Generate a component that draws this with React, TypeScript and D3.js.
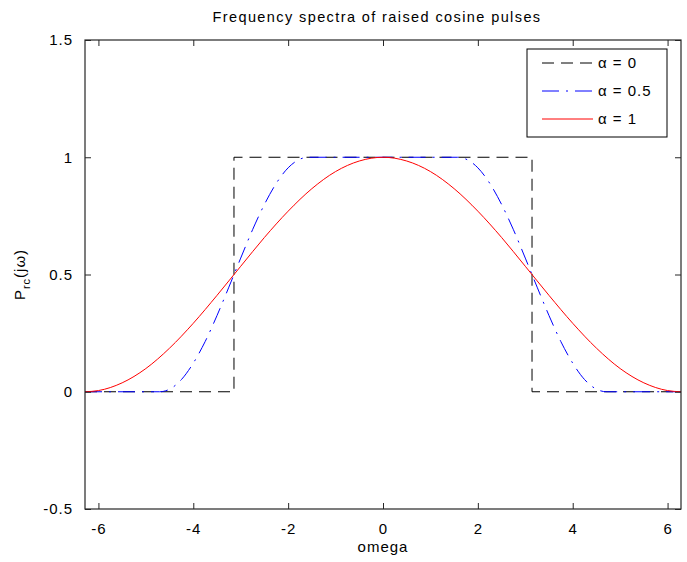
import React, { useEffect, useRef } from 'react';
import * as d3 from 'd3';

// omega samples and spectrum values
const rectOmega = [-6.283, -3.142, -3.142, 3.142, 3.142, 6.283];
const rectValue = [0, 0, 1, 1, 0, 0];

const halfOmega = [-6.283, -4.712, -4.5, -4.25, -4, -3.75, -3.5, -3.25, -3, -2.75, -2.5, -2.25, -2, -1.75, -1.571,
  1.571, 1.75, 2, 2.25, 2.5, 2.75, 3, 3.25, 3.5, 3.75, 4, 4.25, 4.5, 4.712, 6.283];
const halfValue = [0, 0, 0.011, 0.052, 0.122, 0.214, 0.325, 0.446, 0.57, 0.691, 0.799, 0.889, 0.955, 0.992, 1,
  1, 0.992, 0.955, 0.889, 0.799, 0.691, 0.57, 0.446, 0.325, 0.214, 0.122, 0.052, 0.011, 0, 0];

const fullOmega = [-6.283, -6, -5.5, -5, -4.5, -4, -3.5, -3, -2.5, -2, -1.5, -1, -0.5, 0,
  0.5, 1, 1.5, 2, 2.5, 3, 3.5, 4, 4.5, 5, 5.5, 6, 6.283];
const fullValue = [0, 0.005, 0.038, 0.099, 0.186, 0.292, 0.411, 0.535, 0.658, 0.77, 0.866, 0.939, 0.984, 1,
  0.984, 0.939, 0.866, 0.77, 0.658, 0.535, 0.411, 0.292, 0.186, 0.099, 0.038, 0.005, 0];

const xTicks = [-6, -4, -2, 0, 2, 4, 6];
const yTicks = [-0.5, 0, 0.5, 1, 1.5];
const legendLabels = ['\u03b1 = 0', '\u03b1 = 0.5', '\u03b1 = 1'];

export default function App() {
  const ref = useRef<SVGSVGElement>(null);
  const W = 687, H = 562;
  const margin = { top: 40, right: 6, bottom: 53, left: 85 };

  useEffect(() => {
    const svg = d3.select(ref.current);
    svg.selectAll('*').remove();
    const font = '"Liberation Sans", Arial, sans-serif';
    const w = W - margin.left - margin.right;
    const h = H - margin.top - margin.bottom;

    const x = d3.scaleLinear().domain([-2 * Math.PI, 2 * Math.PI]).range([0, w]);
    const y = d3.scaleLinear().domain([-0.5, 1.5]).range([h, 0]);

    svg.append('rect').attr('width', W).attr('height', H).attr('fill', 'white');

    svg.append('defs').append('clipPath').attr('id', 'plotclip')
      .append('rect').attr('width', w).attr('height', h);

    const g = svg.append('g').attr('transform', `translate(${margin.left},${margin.top})`);

    const series = [
      { xs: rectOmega, ys: rectValue, color: '#000000', dash: '12 7', curve: d3.curveLinear },
      { xs: halfOmega, ys: halfValue, color: '#0000ff', dash: '17 7 2 7', curve: d3.curveMonotoneX },
      { xs: fullOmega, ys: fullValue, color: '#ff0000', dash: null, curve: d3.curveMonotoneX },
    ];

    const lines = g.append('g').attr('clip-path', 'url(#plotclip)');
    series.forEach(s => {
      const line = d3.line<number>()
        .x((d, i) => x(s.xs[i]))
        .y(d => y(d))
        .curve(s.curve);
      lines.append('path')
        .attr('d', line(s.ys))
        .attr('fill', 'none')
        .attr('stroke', s.color)
        .attr('stroke-width', 1)
        .attr('stroke-dasharray', s.dash);
    });

    // axes box with inward ticks on all sides
    const axisStyle = (sel: any) => {
      sel.select('.domain').remove();
      sel.selectAll('line').attr('stroke', '#262626');
      sel.selectAll('text').attr('font-family', font).attr('font-size', 15)
        .attr('fill', '#000').attr('letter-spacing', 1);
    };
    g.append('g').attr('transform', `translate(0,${h})`)
      .call(d3.axisBottom(x).tickValues(xTicks).tickSizeInner(-6).tickPadding(14).tickFormat(d => String(d)))
      .call(axisStyle);
    g.append('g')
      .call(d3.axisTop(x).tickValues(xTicks).tickSizeInner(-6).tickFormat(() => ''))
      .call(axisStyle);
    g.append('g')
      .call(d3.axisLeft(y).tickValues(yTicks).tickSizeInner(-6).tickPadding(12).tickFormat(d => String(d)))
      .call(axisStyle);
    g.append('g').attr('transform', `translate(${w},0)`)
      .call(d3.axisRight(y).tickValues(yTicks).tickSizeInner(-6).tickFormat(() => ''))
      .call(axisStyle);

    g.append('rect').attr('width', w).attr('height', h)
      .attr('fill', 'none').attr('stroke', '#262626').attr('stroke-width', 1.2);

    // title and labels
    svg.append('text').attr('x', margin.left + w / 2 - 6).attr('y', 22)
      .attr('text-anchor', 'middle').attr('font-family', font).attr('font-size', 14.5)
      .attr('letter-spacing', 1.4).text('Frequency spectra of raised cosine pulses');

    svg.append('text').attr('x', margin.left + w / 2).attr('y', 552)
      .attr('text-anchor', 'middle').attr('font-family', font).attr('font-size', 15)
      .attr('letter-spacing', 1).text('omega');

    const yl = svg.append('text')
      .attr('transform', `translate(25,${margin.top + h / 2}) rotate(-90)`)
      .attr('text-anchor', 'middle').attr('font-family', font).attr('font-size', 15)
      .attr('letter-spacing', 1);
    yl.append('tspan').text('P');
    yl.append('tspan').attr('font-size', 11).attr('dy', 5).text('rc');
    yl.append('tspan').attr('dy', -5).text('(j\u03c9)');

    // legend
    const lg = g.append('g').attr('transform', `translate(${527 - margin.left},${49 - margin.top})`);
    lg.append('rect').attr('width', 140).attr('height', 88)
      .attr('fill', 'white').attr('stroke', '#000').attr('stroke-width', 1);
    series.forEach((s, i) => {
      const cy = 14 + i * 28;
      lg.append('line').attr('x1', 15).attr('x2', 66).attr('y1', cy).attr('y2', cy)
        .attr('stroke', s.color).attr('stroke-width', 1).attr('stroke-dasharray', s.dash);
      lg.append('text').attr('x', 71).attr('y', cy + 5).attr('font-family', font)
        .attr('font-size', 15).attr('letter-spacing', 1).text(legendLabels[i]);
    });
  }, []);

  return (
    <div style={{ position: 'absolute', left: 0, top: 0 }}>
      <svg ref={ref} width={W} height={H} style={{ display: 'block' }}></svg>
    </div>
  );
}
